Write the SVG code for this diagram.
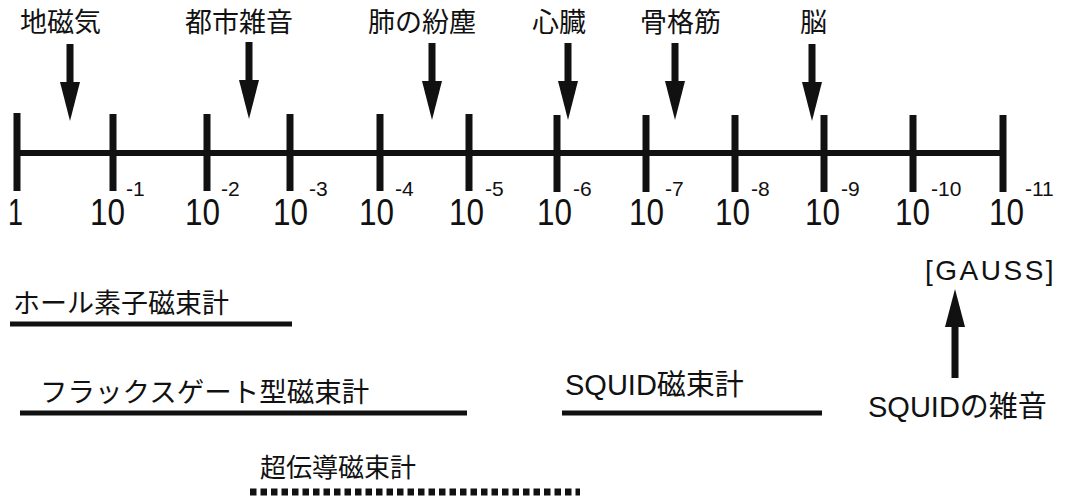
<svg xmlns="http://www.w3.org/2000/svg" width="1077" height="500" viewBox="0 0 1077 500">
<style>
text{font-family:"Liberation Sans","Noto Sans CJK JP",sans-serif;fill:#111}
.lbl{font-size:27px}
.num{font-size:37px}
.sup{font-size:21px}
.tick{stroke:#111;stroke-width:7}
.axis{stroke:#111;stroke-width:6}
.bar{stroke:#111;stroke-width:5}
.arr{fill:#111}
</style>
<defs>
<g id="down"><rect x="-3.5" y="0" width="7" height="40" class="arr"/><polygon points="-10,38 10,38 0,77" class="arr"/></g>
</defs>
<rect width="1077" height="500" fill="#fff"/>
<g id="axis">
<line class="axis" x1="17" y1="153" x2="1003" y2="153"/>
<line class="tick" x1="17" y1="113" x2="17" y2="191"/>
<line class="tick" x1="113" y1="114" x2="113" y2="191"/>
<line class="tick" x1="207" y1="114" x2="207" y2="191"/>
<line class="tick" x1="290" y1="114" x2="290" y2="191"/>
<line class="tick" x1="380" y1="114" x2="380" y2="191"/>
<line class="tick" x1="469" y1="114" x2="469" y2="191"/>
<line class="tick" x1="557" y1="115" x2="557" y2="192"/>
<line class="tick" x1="646" y1="115" x2="646" y2="192"/>
<line class="tick" x1="735" y1="115" x2="735" y2="192"/>
<line class="tick" x1="824" y1="115" x2="824" y2="192"/>
<line class="tick" x1="913" y1="115" x2="913" y2="192"/>
<line class="tick" x1="1003" y1="115" x2="1003" y2="192"/>
</g>
<g id="scale-labels">
<text class="num" x="8" y="225" textLength="15" lengthAdjust="spacingAndGlyphs">1</text>
<text class="num" x="90" y="225" textLength="35" lengthAdjust="spacingAndGlyphs">10</text><text class="sup" x="126" y="196">-1</text>
<text class="num" x="185" y="225" textLength="35" lengthAdjust="spacingAndGlyphs">10</text><text class="sup" x="221" y="196">-2</text>
<text class="num" x="273" y="225" textLength="35" lengthAdjust="spacingAndGlyphs">10</text><text class="sup" x="309" y="196">-3</text>
<text class="num" x="359" y="225" textLength="35" lengthAdjust="spacingAndGlyphs">10</text><text class="sup" x="395" y="196">-4</text>
<text class="num" x="449" y="225" textLength="35" lengthAdjust="spacingAndGlyphs">10</text><text class="sup" x="485" y="196">-5</text>
<text class="num" x="537" y="225" textLength="35" lengthAdjust="spacingAndGlyphs">10</text><text class="sup" x="573" y="196">-6</text>
<text class="num" x="629" y="225" textLength="35" lengthAdjust="spacingAndGlyphs">10</text><text class="sup" x="665" y="196">-7</text>
<text class="num" x="715" y="225" textLength="35" lengthAdjust="spacingAndGlyphs">10</text><text class="sup" x="751" y="196">-8</text>
<text class="num" x="805" y="225" textLength="35" lengthAdjust="spacingAndGlyphs">10</text><text class="sup" x="841" y="196">-9</text>
<text class="num" x="895" y="225" textLength="35" lengthAdjust="spacingAndGlyphs">10</text><text class="sup" x="931" y="196">-10</text>
<text class="num" x="989" y="225" textLength="35" lengthAdjust="spacingAndGlyphs">10</text><text class="sup" x="1025" y="196">-11</text>
<text x="925" y="280" style="font-size:28px;letter-spacing:2.5px">[GAUSS]</text>
</g>
<g id="n-chikyu"><text class="lbl" x="20" y="32">地磁気</text><use href="#down" x="70" y="44"/></g>
<g id="n-toshi"><text class="lbl" x="185" y="32">都市雑音</text><use href="#down" x="249" y="42"/></g>
<g id="n-hai"><text class="lbl" x="368" y="32">肺の紛塵</text><use href="#down" x="432" y="43"/></g>
<g id="n-shinzo"><text class="lbl" x="532" y="32">心臓</text><use href="#down" x="568" y="43"/></g>
<g id="n-kokaku"><text class="lbl" x="640" y="32">骨格筋</text><use href="#down" x="675" y="43"/></g>
<g id="n-no"><text class="lbl" x="800" y="32">脳</text><use href="#down" x="812" y="44"/></g>
<g id="n-squid-noise">
<polygon class="arr" points="955,289 945,327 965,327"/>
<rect class="arr" x="951.5" y="325" width="7" height="53"/>
<text x="868" y="417" style="font-size:29px">SQUIDの雑音</text>
</g>
<g id="n-hall"><text class="lbl" x="13" y="313">ホール素子磁束計</text><line class="bar" x1="10" y1="324" x2="292" y2="324"/></g>
<g id="n-flux"><text class="lbl" x="40" y="402" style="font-size:27.5px">フラックスゲート型磁束計</text><line class="bar" x1="20" y1="413" x2="467" y2="413"/></g>
<g id="n-squid"><text x="565" y="395" style="font-size:29px">SQUID磁束計</text><line class="bar" x1="562" y1="413" x2="822" y2="413"/></g>
<g id="n-super"><text class="lbl" x="260" y="477" style="font-size:26px">超伝導磁束計</text><line x1="250" y1="492" x2="580" y2="492" stroke="#111" stroke-width="7" stroke-dasharray="6.5 4"/></g>
</svg>
